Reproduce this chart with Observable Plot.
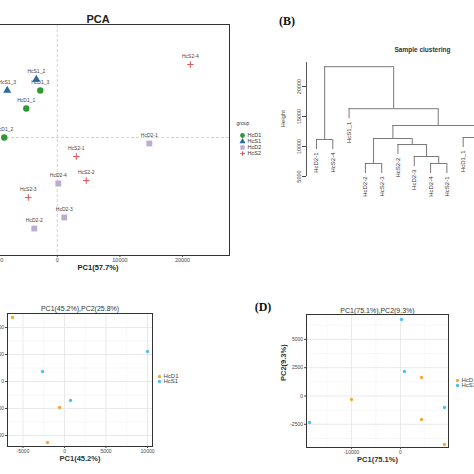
<!DOCTYPE html>
<html><head><meta charset="utf-8">
<script src="https://cdn.jsdelivr.net/npm/d3@7"></script>
<script src="https://cdn.jsdelivr.net/npm/@observablehq/plot@0.6"></script>
<style>
html,body{margin:0;padding:0;background:#fff;}
#fig{position:relative;width:474px;height:474px;overflow:hidden;background:#fff;font-family:"Liberation Sans",Arial,sans-serif;}
.plab{position:absolute;transform:translate(-50%,-50%);font-family:"Liberation Serif","Times New Roman",serif;font-weight:bold;font-size:12px;color:#111;white-space:nowrap;}
</style></head><body><div id="fig"></div>
<script>
// ---------- Panel A: PCA (all four groups) ----------
const aSamples = ["HcS2-4","HcS1_2","HcS1_3","HcD1_3","HcD1_1","HcD1_2","HcD2-1","HcS2-1","HcD2-4","HcS2-2","HcS2-3","HcD2-3","HcD2-2"];
const aGroup   = ["HcS2","HcS1","HcS1","HcD1","HcD1","HcD1","HcD2","HcS2","HcD2","HcS2","HcS2","HcD2","HcD2"];
const aPC1     = [21250,-3350,-7990,-2720,-4950,-8470,14700,3040,160,4630,-4630,1120,-3670];
const aPC2     = [11660,9270,7510,7510,4630,0,-960,-3040,-7350,-6870,-9580,-12780,-14540];
const aXTicks  = [-10000,0,10000,20000];
const aYTicks  = [-10000,0,10000];
const aGroups  = ["HcD1","HcS1","HcD2","HcS2"];

// ---------- Panel B: sample clustering (hclust) ----------
const bLeafOrder = ["HcD2-1","HcS2-4","HcS1_1","HcD2-2","HcS2-3","HcS2-2","HcD2-3","HcD2-4","HcS2-1","HcD1_1","HcS1_2","HcS1_3","HcD1_2","HcD1_3"];
const bMergeA    = ["HcD2-2","HcD2-4","HcD2-3","HcS1_2","HcD1_2","HcS2-2","HcD2-1",1,4,"HcD1_1",8,"HcS1_1",7];
const bMergeB    = ["HcS2-3","HcS2-1",2,"HcS1_3","HcD1_3",3,"HcS2-4",6,5,9,10,11,12];
const bMergeH    = [7170,7170,8330,8000,8500,10330,11170,11330,10000,11500,13500,16300,23300];
const bHeightTicks = [5000,10000,15000,20000];
const bHeightMax = 24000;
const bHang = 1670;

// ---------- Panel C: PC1(45.2%), PC2(25.8%) ----------
const cPC1   = [-6265,-602,-2048,10000,-2650,723];
const cPC2   = [5926,-2407,-5648,2778,926,-1759];
const cGroup = ["HcD1","HcD1","HcD1","HcS1","HcS1","HcS1"];
const cXMajor = [-5000,0,5000,10000];
const cXMinor = [-2500,2500,7500];
const cYMajor = [-5000,-2500,0,2500,5000];
const cYMinor = [-3750,-1250,1250,3750];

// ---------- Panel D: PC1(75.1%), PC2(9.3%) ----------
const dPC1   = [204,816,4290,-10000,8980,4290,-18570,8980];
const dPC2   = [6760,2160,1630,-310,-1020,-2080,-2340,-4280];
const dGroup = ["HcS1","HcS1","HcD1","HcD1","HcS1","HcD1","HcS1","HcD1"];
const dXMajor = [-10000,0];
const dXMinor = [-15000,-5000,5000];
const dYMajor = [-2500,0,2500,5000];
const dYMinor = [-3750,-1250,1250,3750,6250];
const cdGroups = ["HcD1","HcS1"];

// ---------- styles ----------
const fig = document.getElementById("fig");
const FONT = "Liberation Sans, Arial, sans-serif";
const plain = d => String(d);
const groupStyle = {
  HcD1:{symbol:"circle",   fill:"#2f9a35", r:3.2},
  HcS1:{symbol:"triangle", fill:"#2c6aa0", r:3.0},
  HcD2:{symbol:"square",   fill:"#bcadd0", r:3.3},
  HcS2:{symbol:"plus",     stroke:"#e0585a", r:2.2}
};
const ggColor = {HcD1:"#f2a93b", HcS1:"#4fc0e8"};
function place(svg, left, top){
  svg.setAttribute("style", `position:absolute;left:${left}px;top:${top}px;overflow:visible;background:none;max-width:none;font-family:${FONT};`);
  fig.appendChild(svg);
}
function symDots(data, g, opts){
  const s = groupStyle[g];
  return Plot.dot(data.filter(d => (d.group ?? d) === g), {
    ...opts, symbol: s.symbol, r: opts.r ?? s.r,
    fill: s.fill ?? "none", stroke: s.stroke ?? "none", strokeWidth: 1.1
  });
}

// ---------- Panel A ----------
const aData = aSamples.map((name,i)=>({name, group:aGroup[i], pc1:aPC1[i], pc2:aPC2[i]}));
place(Plot.plot({
  width:285, height:290, marginLeft:40, marginRight:2, marginTop:24, marginBottom:35,
  x:{domain:[-11300,27500]}, y:{domain:[-18850,18050]},
  marks:[
    Plot.ruleX([0],{stroke:"#c8c8c8", strokeDasharray:"3,2", strokeWidth:0.8}),
    Plot.ruleY([0],{stroke:"#c8c8c8", strokeDasharray:"3,2", strokeWidth:0.8}),
    ...aGroups.map(g => symDots(aData, g, {x:"pc1", y:"pc2"})),
    Plot.text(aData,{x:"pc1", y:"pc2", text:"name", dy:-8, fontSize:5, fill:"#444"}),
    Plot.frame({stroke:"#333", strokeWidth:1}),
    Plot.axisX({ticks:aXTicks, tickFormat:plain, tickSize:2, tickPadding:0.5, fontSize:5.5, fill:"#444", stroke:"#444", label:null}),
    Plot.axisY({ticks:aYTicks, tickFormat:plain, tickSize:2, fontSize:5.5, label:null}),
    Plot.text(["PCA"],{frameAnchor:"top", dy:-9, dx:-10, fontSize:11, fontWeight:"bold", fill:"#222"}),
    Plot.text(["PC1(57.7%)"],{frameAnchor:"bottom", dy:14.5, dx:-10, fontSize:7.5, fontWeight:"bold", fill:"#222"})
  ]
}), -54, 0);

// legend A
place(Plot.plot({
  width:45, height:50, margin:0,
  y:{type:"point", domain:aGroups, range:[17,41], axis:null}, x:{axis:null},
  marks:[
    Plot.text(["group"],{frameAnchor:"top-left", dx:6, dy:8, fontSize:5, fill:"#333", lineAnchor:"middle"}),
    ...aGroups.map(g => symDots(aGroups, g, {frameAnchor:"left", y:d=>d, dx:12, r:groupStyle[g].r*0.75})),
    Plot.text(aGroups,{frameAnchor:"left", y:d=>d, dx:17, text:d=>d, fontSize:5.5, fill:"#333", textAnchor:"start"})
  ]
}), 230, 115);

// ---------- Panel B ----------
const nodeX = {}, nodeH = {};
bLeafOrder.forEach((n,i)=>{ nodeX[n] = i; });
const hLines = [], vLines = [], leafPts = [];
bMergeH.forEach((h,k)=>{
  const a = bMergeA[k], b = bMergeB[k], id = k+1;
  nodeX[id] = (nodeX[a] + nodeX[b]) / 2; nodeH[id] = h;
  hLines.push({x1:nodeX[a], x2:nodeX[b], y:h});
  for (const c of [a,b]) {
    const leaf = typeof c === "string";
    const bottom = leaf ? h - bHang : nodeH[c];
    vLines.push({x:nodeX[c], y1:h, y2:bottom});
    if (leaf) leafPts.push({x:nodeX[c], y:bottom, name:c});
  }
});
const bXDomain = [-0.613, 14.97];
place(Plot.plot({
  width:304, height:215, marginLeft:50, marginRight:0, marginTop:62, marginBottom:39,
  x:{domain:bXDomain, axis:null}, y:{domain:[bHeightTicks[0], bHeightMax]},
  marks:[
    Plot.ruleY(hLines,{y:"y", x1:"x1", x2:"x2", stroke:"#6a6a6a", strokeWidth:0.9}),
    Plot.ruleX(vLines,{x:"x", y1:"y1", y2:"y2", stroke:"#6a6a6a", strokeWidth:0.9}),
    Plot.text(leafPts,{x:"x", y:"y", text:"name", rotate:-90, textAnchor:"end", dy:3, fontSize:6, fill:"#333"}),
    Plot.ruleX([bXDomain[0]],{y1:bHeightTicks[0], y2:bHeightMax, stroke:"#444", strokeWidth:0.9}),
    Plot.axisY({ticks:bHeightTicks, tickFormat:plain, tickSize:4, tickPadding:2, tickRotate:-90, fontSize:5.5, fill:"#444", stroke:"#444", label:null}),
    Plot.text(["Height"],{frameAnchor:"left", dx:-23, dy:8, rotate:-90, fontSize:6, fill:"#444"}),
    Plot.text(["Sample clustering"],{frameAnchor:"top", dx:-11, dy:-15, fontSize:6.5, fontWeight:"bold", fill:"#333"})
  ]
}), 256, 0);

// ---------- ggplot-like panels C & D ----------
function ggPanel({left, top, w, h, ml, xDomain, yDomain, xMajor, xMinor, yMajor, yMinor, pc1, pc2, grp, title, xLabel, yLabel, titleDy, xLabDy}){
  const data = pc1.map((v,i)=>({pc1:v, pc2:pc2[i], group:grp[i]}));
  const marks = [
    Plot.ruleX(xMinor,{stroke:"#f2f2f2", strokeWidth:0.6}),
    Plot.ruleY(yMinor,{stroke:"#f2f2f2", strokeWidth:0.6}),
    Plot.ruleX(xMajor,{stroke:"#e6e6e6", strokeWidth:0.9}),
    Plot.ruleY(yMajor,{stroke:"#e6e6e6", strokeWidth:0.9}),
    Plot.dot(data,{x:"pc1", y:"pc2", r:1.7, fill:d=>ggColor[d.group], stroke:"none"}),
    Plot.frame({stroke:"#333", strokeWidth:1}),
    Plot.axisX({ticks:xMajor, tickFormat:plain, tickSize:2, tickPadding:1, fontSize:5, fill:"#444", stroke:"#444", label:null}),
    Plot.axisY({ticks:yMajor, tickFormat:plain, tickSize:2, tickPadding:1.5, fontSize:5, fill:"#444", stroke:"#444", label:null}),
    Plot.text([title],{frameAnchor:"top", dy:titleDy, fontSize:7, fill:"#333"}),
    Plot.text([xLabel],{frameAnchor:"bottom", dy:xLabDy, fontSize:7.5, fontWeight:"bold", fill:"#333"})
  ];
  if (yLabel) marks.push(Plot.text([yLabel],{frameAnchor:"left", dx:-23, rotate:-90, fontSize:7.5, fontWeight:"bold", fill:"#333"}));
  place(Plot.plot({
    width:w, height:h, marginLeft:ml, marginRight:2, marginTop:24, marginBottom:32,
    x:{domain:xDomain}, y:{domain:yDomain}, marks
  }), left, top);
}
function ggLegend(left, top){
  place(Plot.plot({
    width:40, height:24, margin:0,
    y:{type:"point", domain:cdGroups, range:[4,14], axis:null}, x:{axis:null},
    marks:[
      Plot.dot(cdGroups,{frameAnchor:"left", y:d=>d, dx:2, r:1.7, fill:d=>ggColor[d]}),
      Plot.text(cdGroups,{frameAnchor:"left", y:d=>d, dx:6, text:d=>d, fontSize:6, fill:"#444", textAnchor:"start"})
    ]
  }), left, top);
}

// Panel C: frame 7..152 x 313..446
ggPanel({left:-33, top:289, w:40+145+2, h:24+133+32, ml:40,
  xDomain:[-6870,10600], yDomain:[-6020,6300],
  xMajor:cXMajor, xMinor:cXMinor, yMajor:cYMajor, yMinor:cYMinor,
  pc1:cPC1, pc2:cPC2, grp:cGroup,
  title:"PC1(45.2%),PC2(25.8%)", xLabel:"PC1(45.2%)", titleDy:-7, xLabDy:14});
ggLegend(157, 369);

// Panel D: frame 306..448 x 314..447
ggPanel({left:266, top:290, w:40+142+2, h:24+133+32, ml:40,
  xDomain:[-19180,9800], yDomain:[-4550,7200],
  xMajor:dXMajor, xMinor:dXMinor, yMajor:dYMajor, yMinor:dYMinor,
  pc1:dPC1, pc2:dPC2, grp:dGroup,
  title:"PC1(75.1%),PC2(9.3%)", xLabel:"PC1(75.1%)", yLabel:"PC2(9.3%)", titleDy:-6, xLabDy:14});
ggLegend(455, 373);

// panel letters
for (const [t,x,y] of [["(B)",287,21],["(D)",263,307]]) {
  const d = document.createElement("div");
  d.className = "plab"; d.textContent = t;
  d.style.left = x+"px"; d.style.top = y+"px";
  fig.appendChild(d);
}
</script></body></html>
